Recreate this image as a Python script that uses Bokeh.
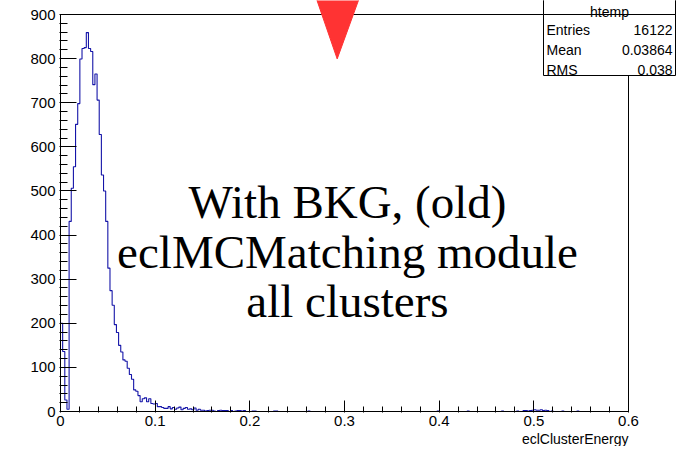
from bokeh.plotting import figure
from bokeh.models import Range1d, FixedTicker, Label, BoxAnnotation, PolyAnnotation, Title
from bokeh.embed import file_html
from bokeh.resources import INLINE

# ---------------- data ----------------
N_BINS = 264
X_MIN, X_MAX = 0.0, 0.6
Y_MAX = 900
BIN_WIDTH = (X_MAX - X_MIN) / N_BINS

# counts of the first 66 bins
core_counts = [200, 136, 26, 5, 431, 506, 555, 651, 698, 799,
               823, 825, 859, 823, 816, 741, 765, 706, 628, 536,
               500, 431, 325, 274, 241, 197, 179, 150, 135, 117,
               114, 98, 84, 73, 49, 46, 36, 22, 29, 31,
               22, 29, 18, 17, 18, 11, 11, 9, 7, 7,
               11, 6, 9, 5, 8, 10, 4, 7, 9, 5,
               6, 4, 8, 3, 5, 3]
# sparse tail: bin index -> count
tail_bins = [66, 67, 68, 69, 70, 71, 73, 74, 75, 76, 77, 79, 81, 82, 83, 84, 85,
             89, 90, 99, 100, 115, 175, 189, 205, 212, 215, 216, 217, 218, 219,
             220, 221, 222, 223, 224, 225, 226, 228, 233, 240]
tail_counts = [3, 1, 2, 3, 3, 1, 2, 3, 2, 2, 2, 2, 1, 2, 2, 1, 2,
               1, 1, 1, 1, 1, 1, 1, 1, 1, 2, 2, 1, 2, 3,
               4, 3, 3, 4, 2, 3, 2, 1, 1, 1]

stats_title = "htemp"
stats_names = ["Entries", "Mean", "RMS"]
stats_values = ["16122", "0.03864", "0.038"]

x_ticks = [0, 0.1, 0.2, 0.3, 0.4, 0.5, 0.6]
y_ticks = [0, 100, 200, 300, 400, 500, 600, 700, 800, 900]
x_title = "eclClusterEnergy"
note_lines = ["With BKG, (old)", "eclMCMatching module", "all clusters"]

# ---------------- build histogram ----------------
counts = [0] * N_BINS
for i, c in enumerate(core_counts):
    counts[i] = c
for b, c in zip(tail_bins, tail_counts):
    counts[b] = c
edges = [X_MIN + i * BIN_WIDTH for i in range(N_BINS + 1)]

# ---------------- layout (pixels) ----------------
W, H = 676, 446
PX_X0, PX_X1 = 60, 628          # x = 0 ... 0.6
PX_Y0, PX_Y1 = 411, 14          # y = 0 ... 900
KX = (X_MAX - X_MIN) / (PX_X1 - PX_X0)
KY = Y_MAX / (PX_Y0 - PX_Y1)

def dx(px):
    return X_MIN + (px - PX_X0) * KX

def dy(py):
    return (PX_Y0 - py) * KY

p = figure(width=W, height=H,
           x_range=Range1d(dx(PX_X0 - 1), dx(W)), y_range=Range1d(dy(PX_Y0 + 1), dy(0)),
           output_backend="svg", toolbar_location=None,
           min_border_left=PX_X0 - 1, min_border_right=0, min_border_top=0,
           min_border_bottom=H - PX_Y0 - 1)
p.xgrid.visible = False
p.ygrid.visible = False
p.outline_line_color = None
p.background_fill_color = "white"
p.border_fill_color = "white"

# histogram
p.step(edges, counts + [counts[-1]], mode="after", line_color="#1414a8", line_width=1.1)

# frame box (ROOT style)
p.quad(left=[X_MIN], right=[X_MAX], bottom=[0], top=[Y_MAX], fill_color=None,
       line_color="black", line_width=1)

# axes
minor_y = [v for v in range(20, Y_MAX, 20) if v % 100 != 0]
p.yaxis.ticker = FixedTicker(ticks=y_ticks, minor_ticks=minor_y)
minor_x = [round(k * 0.02, 2) for k in range(1, 30) if k % 5 != 0]
p.xaxis.ticker = FixedTicker(ticks=x_ticks, minor_ticks=minor_x)
p.xaxis.major_label_overrides = {0: "0"}
for ax in (p.xaxis[0], p.yaxis[0]):
    ax.axis_line_color = None
    ax.major_tick_line_color = "black"
    ax.minor_tick_line_color = "black"
    ax.major_tick_out = 0
    ax.minor_tick_out = 0
    ax.major_label_text_font = "Liberation Sans"
    ax.major_label_text_font_size = "15px"
    ax.major_label_text_color = "black"
p.yaxis.major_label_standoff = 4
p.xaxis.major_label_standoff = 3
p.yaxis.major_tick_in = 17
p.yaxis.minor_tick_in = 8
p.xaxis.major_tick_in = 12
p.xaxis.minor_tick_in = 6

# x axis title, right aligned at the end of the axis
p.add_layout(Title(text=x_title, align="right", offset=W - PX_X1, standoff=0,
                   text_font="Liberation Sans", text_font_size="14px",
                   text_font_style="normal", text_color="black"), "below")

# big overlay note
for k, line in enumerate(note_lines):
    p.add_layout(Label(x=dx(347), y=dy(201.5 + 49.7 * k), text=line, text_align="center",
                       text_baseline="alphabetic", text_font="Liberation Serif",
                       text_font_size="47px", text_color="black"))

# red arrow
p.add_layout(PolyAnnotation(xs=[dx(315.5), dx(359), dx(336.7)], ys=[dy(-3), dy(-3), dy(58.4)],
                            fill_color="#ff3333", fill_alpha=1.0, line_color="#ff3333",
                            line_alpha=1.0))

# stats box
BOX_L, BOX_R, BOX_B = 543, 675, 75
p.add_layout(BoxAnnotation(left=dx(BOX_L), right=dx(BOX_R), bottom=dy(BOX_B), top=dy(-10),
                           fill_color="white", fill_alpha=1.0, line_color="black",
                           line_width=1, line_alpha=1.0))
p.add_layout(BoxAnnotation(left=dx(BOX_L), right=dx(BOX_R), bottom=dy(PX_Y1), top=dy(-10),
                           fill_color="white", fill_alpha=1.0, line_color="black",
                           line_width=1, line_alpha=1.0))
p.add_layout(Label(x=dx((BOX_L + BOX_R) / 2), y=dy(11.5), text=stats_title, text_align="center",
                   text_baseline="alphabetic", text_font="Liberation Sans",
                   text_font_size="14px", text_color="black"))
for k, (nm, val) in enumerate(zip(stats_names, stats_values)):
    yb = dy(29.5 + 20.1 * k)
    p.add_layout(Label(x=dx(546), y=yb, text=nm, text_align="left",
                       text_baseline="alphabetic", text_font="Liberation Sans",
                       text_font_size="14px", text_color="black"))
    p.add_layout(Label(x=dx(672), y=yb, text=val, text_align="right",
                       text_baseline="alphabetic", text_font="Liberation Sans",
                       text_font_size="14px", text_color="black"))

open("out.html", "w").write(file_html(p, INLINE))
